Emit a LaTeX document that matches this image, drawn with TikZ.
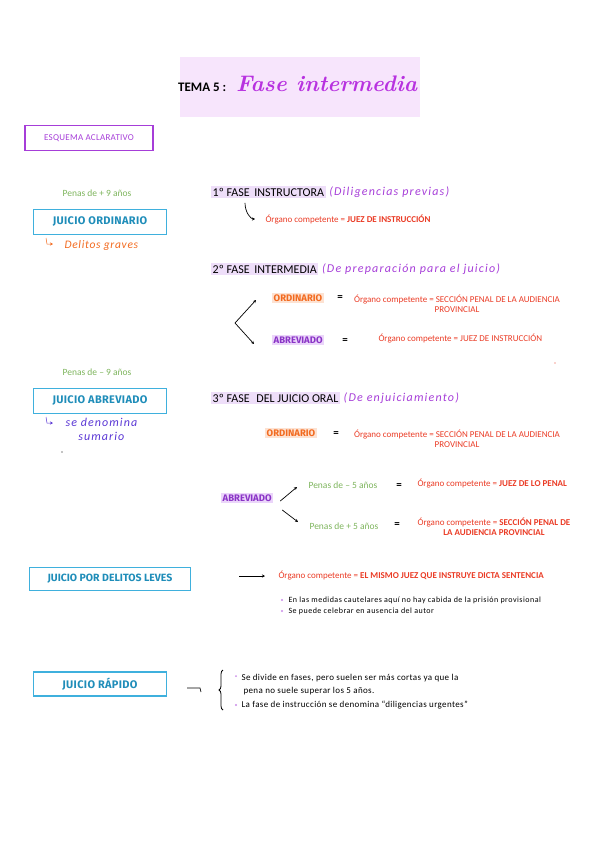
\documentclass[tikz,border=0pt]{standalone}
\usepackage{fontspec}
\setmainfont{Carlito}
\newfontfamily\boxfont{Fira Sans}
\newfontfamily\titlefont{Latin Modern Roman}
\usetikzlibrary{calc,arrows.meta,decorations.pathreplacing}

\definecolor{cajaazul}{HTML}{3FB0DD}
\definecolor{textoazul}{HTML}{1F8DB9}
\definecolor{verde}{HTML}{7DB45C}
\definecolor{rojo}{HTML}{EA3B25}
\definecolor{naranja}{HTML}{F26A1F}
\definecolor{naranjafondo}{HTML}{FDE2D2}
\definecolor{morado}{HTML}{8A34C6}
\definecolor{moradofondo}{HTML}{EBD5FA}
\definecolor{lila}{HTML}{A63ED8}
\definecolor{azulmano}{HTML}{5A36D4}
\definecolor{fondotitulo}{HTML}{F7E5FC}
\definecolor{fondofase}{HTML}{EEDEF9}

\tikzset{
  juicio/.style={draw=cajaazul, line width=1.3pt, minimum width=133pt, minimum height=25pt,
    text=textoazul, font=\boxfont\bfseries\fontsize{11}{12}\selectfont\addfontfeatures{LetterSpace=3}},
  fase/.style={fill=fondofase, inner sep=1.5pt, anchor=west, font=\fontsize{12}{13}\selectfont},
  mano/.style={text=lila, anchor=west, font=\itshape\fontsize{12}{13}\selectfont\addfontfeatures{LetterSpace=10}},
  organo/.style={text=rojo, font=\fontsize{9}{10.5}\selectfont},
  pena/.style={text=verde, font=\fontsize{9.5}{10}\selectfont},
  ordi/.style={fill=naranjafondo, text=naranja, inner sep=1.5pt, anchor=west, font=\boxfont\bfseries\fontsize{9.5}{10}\selectfont},
  abre/.style={fill=moradofondo, text=morado, inner sep=1.5pt, anchor=west, font=\boxfont\bfseries\fontsize{9.5}{10}\selectfont},
  igual/.style={font=\bfseries\fontsize{11}{11}\selectfont},
  nota/.style={anchor=west, font=\fontsize{8}{12}\selectfont\addfontfeatures{LetterSpace=6}},
  flecha/.style={-{Stealth[length=3pt,width=3pt]}, line width=0.7pt},
}

\begin{document}
\begin{tikzpicture}[x=1pt,y=-1pt]
\useasboundingbox (0,0) rectangle (599,848);

% titulo
\fill[fondotitulo] (180,57) rectangle (420,117);
\node[anchor=west, inner sep=0pt, font=\bfseries\fontsize{13}{13}\selectfont] (tema) at (178,87) {TEMA 5 :};
\node[anchor=west, inner sep=0pt, text=lila!80!magenta, font=\titlefont\bfseries\itshape\fontsize{22.5}{23}\selectfont] (titulo) at (236,84) {Fase intermedia};

\node[draw=lila, line width=1.3pt, minimum width=128pt, minimum height=25pt, text=lila,
  font=\fontsize{9}{9}\selectfont\addfontfeatures{LetterSpace=3}] (esquema) at (89,138) {ESQUEMA ACLARATIVO};

% juicio ordinario
\node[pena] (pena9mas) at (97,193) {Penas de + 9 años};
\node[juicio] (ordinario) at (100,222) {JUICIO ORDINARIO};
\node[anchor=west, text=naranja, font=\itshape\fontsize{11.5}{12}\selectfont\addfontfeatures{LetterSpace=6}] (graves) at (61,245) {Delitos graves};
\draw[flecha, naranja, line width=0.5pt] (46,238) -- (47,244) -- (53,244);

% 1a fase
\node[fase] (fase1) at (211,192) {1º FASE\, INSTRUCTORA};
\node[mano] (fase1mano) at (fase1.east) {(Diligencias previas)};
\node[organo, anchor=west] (org1) at (262,219) {Órgano competente = \textbf{JUEZ DE INSTRUCCIÓN}};
\draw[flecha] ($(fase1.south west)+(34,5)$) .. controls +(0,10) and +(-4,0) .. ($(org1.west)+(-7,0)$);

% 2a fase
\node[fase] (fase2) at (211,269) {2º FASE\, INTERMEDIA};
\node[mano] (fase2mano) at (fase2.east) {(De preparación para el juicio)};
\node[ordi] (ord2) at (272,298) {ORDINARIO};
\node[igual] (igual2a) at (340,298) {=};
\node[organo, align=center, anchor=north] (org2a) at (457,291) {Órgano competente = SECCIÓN PENAL DE LA AUDIENCIA\\PROVINCIAL};
\node[abre] (abr2) at (272,340) {ABREVIADO};
\node[igual] (igual2b) at (345,341) {=};
\node[organo, anchor=west] (org2b) at (375,339) {Órgano competente = JUEZ DE INSTRUCCIÓN};
\coordinate (rama2) at (235,323);
\coordinate (rama2a) at (256,300);
\coordinate (rama2b) at (254,344);
\draw[flecha] (rama2) -- (rama2a);
\draw[flecha] (rama2) -- (rama2b);
\fill[rojo] (555,363) circle (0.7);

% juicio abreviado
\node[pena] (pena9menos) at (97,372) {Penas de -- 9 años};
\node[juicio] (abreviado) at (100,401) {JUICIO ABREVIADO};
\node[anchor=west, text=azulmano, font=\itshape\fontsize{12}{14}\selectfont\addfontfeatures{LetterSpace=9}, align=center] (sumario) at (62,429) {se denomina\\sumario};
\draw[flecha, azulmano, line width=0.5pt] (46,417) -- (47,423) -- (53,423);
\fill (62,452) circle (0.6);

% 3a fase
\node[fase] (fase3) at (211,398) {3º FASE\,\, DEL JUICIO ORAL};
\node[mano] (fase3mano) at (fase3.east) {(De enjuiciamiento)};
\node[ordi] (ord3) at (265,433) {ORDINARIO};
\node[igual] (igual3) at (336,434) {=};
\node[organo, align=center, anchor=north] (org3) at (457,426) {Órgano competente = SECCIÓN PENAL DE LA AUDIENCIA\\PROVINCIAL};
\node[abre] (abr3) at (221,498) {ABREVIADO};
\node[pena, anchor=west] (pena5menos) at (305,485) {Penas de -- 5 años};
\node[igual] (igual3a) at (399,486) {=};
\node[organo, anchor=west] (org3a) at (414,484) {Órgano competente = \textbf{JUEZ DE LO PENAL}};
\node[pena, anchor=west] (pena5mas) at (306,526) {Penas de + 5 años};
\node[igual] (igual3b) at (397,525) {=};
\node[organo, align=center, anchor=north] (org3b) at (494,514) {Órgano competente = \textbf{SECCIÓN PENAL DE}\\\textbf{LA AUDIENCIA PROVINCIAL}};
\draw[flecha] ($(abr3.east)+(7,3)$) -- ($(pena5menos.west)+(-8,2)$);
\draw[flecha] ($(abr3.east)+(9,12)$) -- ($(pena5mas.west)+(-8,-4)$);

% juicio por delitos leves
\node[juicio, minimum width=161pt, minimum height=23pt, font=\boxfont\bfseries\fontsize{10.5}{11}\selectfont] (leves) at (110,579) {JUICIO POR DELITOS LEVES};
\node[organo, anchor=west] (org4) at (275,576) {Órgano competente = \textbf{EL MISMO JUEZ QUE INSTRUYE DICTA SENTENCIA}};
\draw[flecha] ($(org4.west)+(-36,0)$) -- ($(org4.west)+(-10,0)$);
\node[nota] (nota4a) at (285,600) {En las medidas cautelares aquí no hay cabida de la prisión provisional};
\node[nota] (nota4b) at (285,611) {Se puede celebrar en ausencia del autor};
\foreach \n in {nota4a,nota4b}
  \fill[lila!60] ($(\n.west)+(-3,0)$) circle (1.1);

% juicio rapido
\node[juicio, minimum height=24pt] (rapido) at (100,684) {JUICIO RÁPIDO};
\node[nota, font=\fontsize{9}{13}\selectfont\addfontfeatures{LetterSpace=4}, align=left] (nota5a) at (238,685) {Se divide en fases, pero suelen ser más cortas ya que la\\\hspace*{2pt}pena no suele superar los 5 años.};
\node[nota, font=\fontsize{9}{10}\selectfont\addfontfeatures{LetterSpace=4}] (nota5b) at (238,705) {La fase de instrucción se denomina “diligencias urgentes”};
\fill[lila!60] ($(nota5a.north west)+(-2,5)$) circle (1.1);
\fill[lila!60] ($(nota5b.west)+(-2,0)$) circle (1.1);
\draw[line width=0.8pt, decorate, decoration={brace, amplitude=4pt}] (223,710) -- (223,670);
\draw[line width=0.7pt] (187,688) -- (200,688) -- (201,692);
\end{tikzpicture}
\end{document}
